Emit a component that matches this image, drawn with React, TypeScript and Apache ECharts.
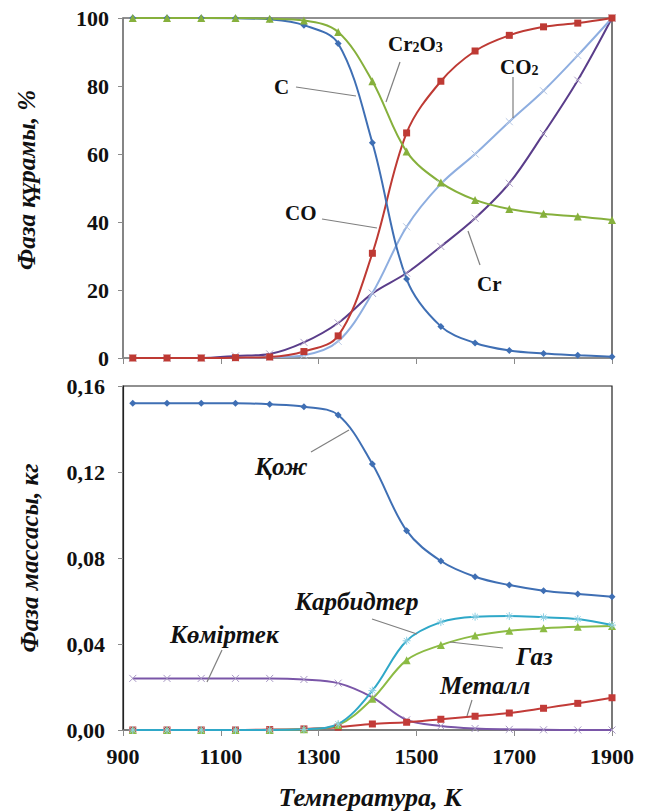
import React, { useEffect, useRef } from "react";
import * as echarts from "echarts";

const temps = [920, 990, 1060, 1130, 1200, 1270, 1340, 1410, 1480, 1550, 1620, 1690, 1760, 1830, 1900];

// Top panel: phase composition, %
const seriesC = [100, 100, 100, 99.9, 99.6, 97.9, 92.5, 63.3, 23.2, 9.3, 4.4, 2.2, 1.3, 0.8, 0.4];
const seriesCr2O3 = [100, 100, 100, 100, 99.8, 99.3, 95.9, 81.4, 60.7, 51.6, 46.5, 43.8, 42.4, 41.6, 40.6];
const seriesCO = [0, 0, 0, 0.1, 0.3, 1.9, 6.5, 30.8, 66.2, 81.4, 90.3, 94.9, 97.4, 98.5, 100];
const seriesCO2 = [0, 0, 0, 0, 0.2, 0.8, 4.9, 19.1, 38.6, 51.2, 60, 69.5, 78.6, 89, 100];
const seriesCr = [0, 0, 0, 0.6, 1.2, 4.6, 10.3, 19, 25, 32.8, 41.1, 51.4, 66, 81.7, 100];

// Bottom panel: phase mass, kg
const seriesQozh = [0.152, 0.152, 0.152, 0.152, 0.1515, 0.1504, 0.1465, 0.1237, 0.0927, 0.0786, 0.0713, 0.0674, 0.0648, 0.0633, 0.062];
const seriesKomirtek = [0.024, 0.024, 0.024, 0.024, 0.024, 0.0235, 0.0218, 0.0152, 0.0047, 0.0019, 0.0007, 0.0003, 0.0001, 0, 0];
const seriesKarbid = [0, 0, 0, 0, 0, 0.0003, 0.0028, 0.0183, 0.0415, 0.0502, 0.0527, 0.053, 0.0524, 0.0516, 0.0488];
const seriesGaz = [0, 0, 0, 0, 0, 0.0003, 0.0023, 0.0145, 0.0325, 0.0395, 0.0439, 0.0462, 0.0473, 0.048, 0.0484];
const seriesMetall = [0, 0, 0, 0, 0.0002, 0.0005, 0.0013, 0.0028, 0.0036, 0.005, 0.0064, 0.0079, 0.0101, 0.0124, 0.015];

const xTicks = { min: 900, max: 1900, interval: 200 };
const topY = { min: 0, max: 100, interval: 20 };
const botY = { min: 0, max: 0.16, interval: 0.04 };

const SERIF = "Liberation Serif";
const CROSS = "path://M0,0L10,10M10,0L0,10";
const STAR = "path://M0,5L10,5M5,0L5,10M1.5,1.5L8.5,8.5M8.5,1.5L1.5,8.5";

function mk(data: number[], idx: number, color: string, symbol: string, size: number, markerStroke?: string) {
  const pts = temps.map((t, i) => [t, data[i]]);
  const itemStyle = markerStroke
    ? { color: "rgba(0,0,0,0)", borderColor: markerStroke, borderWidth: 1 }
    : { color, borderWidth: 0 };
  return {
    type: "line",
    xAxisIndex: idx,
    yAxisIndex: idx,
    data: pts,
    smooth: 0.35,
    symbol,
    symbolSize: size,
    showSymbol: true,
    lineStyle: { color, width: 2 },
    itemStyle,
    emphasis: { disabled: true },
  };
}

export default function App() {
  const ref = useRef<HTMLDivElement>(null);
  useEffect(() => {
    if (!ref.current) return;
    const chart = echarts.init(ref.current, null, { renderer: "svg" });
    const tickLabel = { fontFamily: SERIF, fontWeight: "bold", fontSize: 22, color: "#111" };
    const lbl = (text: string, x: number, y: number, italic = false, size = 21) => ({
      type: "text",
      x,
      y,
      style: {
        text,
        fontFamily: SERIF,
        fontWeight: "bold",
        fontStyle: italic ? "italic" : "normal",
        fontSize: size,
        fill: "#111",
        align: "left",
        verticalAlign: "middle",
      },
      z: 100,
    });
    const ln = (x1: number, y1: number, x2: number, y2: number) => ({
      type: "line",
      shape: { x1, y1, x2, y2 },
      style: { stroke: "#7f7f7f", lineWidth: 1.2 },
      z: 99,
    });
    const richSub = {
      m: { fontFamily: SERIF, fontWeight: "bold", fontSize: 21, lineHeight: 21, fill: "#111", verticalAlign: "bottom" },
      s: { fontFamily: SERIF, fontWeight: "bold", fontSize: 14, lineHeight: 6, fill: "#111", verticalAlign: "bottom" },
    };
    const option: any = {
      animation: false,
      backgroundColor: "#fff",
      grid: [
        { left: 123, top: 18, width: 489, height: 340, show: true, borderColor: "#222", borderWidth: 1.2, backgroundColor: "transparent" },
        { left: 123, top: 386, width: 489, height: 344, show: true, borderColor: "#222", borderWidth: 1.2, backgroundColor: "transparent" },
      ],
      xAxis: [
        {
          type: "value", gridIndex: 0, ...xTicks,
          axisLine: { show: true, onZero: false, lineStyle: { color: "#8a8a8a", width: 1.5 } },
          axisTick: { show: true, length: 6, lineStyle: { color: "#8a8a8a" } },
          axisLabel: { show: false },
          splitLine: { show: false },
        },
        {
          type: "value", gridIndex: 1, ...xTicks,
          axisLine: { show: true, onZero: false, lineStyle: { color: "#777", width: 1.5 } },
          axisTick: { show: true, length: 6, lineStyle: { color: "#8a8a8a" } },
          axisLabel: { ...tickLabel, margin: 15, formatter: (v: number) => String(v) },
          splitLine: { show: false },
        },
      ],
      yAxis: [
        {
          type: "value", gridIndex: 0, ...topY,
          axisLine: { show: true, onZero: false, lineStyle: { color: "#8a8a8a", width: 1.5 } },
          axisTick: { show: true, length: 5, lineStyle: { color: "#8a8a8a" } },
          axisLabel: { ...tickLabel, margin: 14 },
          splitLine: { show: false },
        },
        {
          type: "value", gridIndex: 1, ...botY,
          axisLine: { show: true, onZero: false, lineStyle: { color: "#222", width: 1.2 } },
          axisTick: { show: true, length: 5, lineStyle: { color: "#8a8a8a" } },
          axisLabel: { ...tickLabel, margin: 18, formatter: (v: number) => v.toFixed(2).replace(".", ",") },
          splitLine: { show: false },
        },
      ],
      series: [
        mk(seriesCr, 0, "#5a3d8a", CROSS, 7, "#b0a4c8"),
        mk(seriesCO2, 0, "#8eaee0", CROSS, 7, "#b8c8e4"),
        mk(seriesCO, 0, "#be3a34", "rect", 7),
        mk(seriesC, 0, "#3f6fb4", "diamond", 7),
        mk(seriesCr2O3, 0, "#86b03c", "triangle", 8),
        mk(seriesKomirtek, 1, "#7a56a8", CROSS, 7, "#a898c4"),
        mk(seriesMetall, 1, "#c23b38", "rect", 7),
        mk(seriesGaz, 1, "#8cbb44", "triangle", 8),
        mk(seriesKarbid, 1, "#2fa8c8", STAR, 8, "#8fd0e4"),
        mk(seriesQozh, 1, "#3f6fb4", "diamond", 7),
      ],
      graphic: [
        // axis titles
        {
          type: "text", x: 26, y: 180, rotation: Math.PI / 2, z: 100,
          style: { text: "Фаза құрамы, %", fontFamily: SERIF, fontWeight: "bold", fontStyle: "italic", fontSize: 25, fill: "#111", align: "center", verticalAlign: "middle" },
        },
        {
          type: "text", x: 29, y: 558, rotation: Math.PI / 2, z: 100,
          style: { text: "Фаза массасы, кг", fontFamily: SERIF, fontWeight: "bold", fontStyle: "italic", fontSize: 25, fill: "#111", align: "center", verticalAlign: "middle" },
        },
        {
          type: "text", x: 370, y: 797, z: 100,
          style: { text: "Температура, К", fontFamily: SERIF, fontWeight: "bold", fontStyle: "italic", fontSize: 26, fill: "#111", align: "center", verticalAlign: "middle" },
        },
        // top annotations
        lbl("C", 274, 87),
        ln(296, 87, 356, 96),
        {
          type: "text", x: 388, y: 44, z: 100,
          style: { text: "{m|Cr}{s|2}{m|O}{s|3}", align: "left", verticalAlign: "middle", rich: richSub },
        },
        ln(400, 62, 386, 102),
        {
          type: "text", x: 500, y: 67, z: 100,
          style: { text: "{m|CO}{s|2}", align: "left", verticalAlign: "middle", rich: richSub },
        },
        ln(513, 77, 513, 118),
        lbl("CO", 285, 213),
        ln(322, 219, 377, 228),
        lbl("Cr", 477, 284),
        ln(480, 265, 468, 231),
        // bottom annotations
        lbl("Қож", 255, 466, true, 25),
        ln(311, 452, 349, 430),
        lbl("Көміртек", 170, 634, true, 25),
        ln(222, 650, 207, 682),
        lbl("Карбидтер", 295, 601, true, 25),
        ln(372, 619, 417, 634),
        lbl("Газ", 516, 656, true, 25),
        ln(503, 648, 450, 642),
        lbl("Металл", 440, 685, true, 25),
        ln(472, 700, 467, 716),
      ],
    };
    chart.setOption(option);
    return () => chart.dispose();
  }, []);
  return (
    <div
      ref={ref}
      style={{ position: "fixed", left: 0, top: 0, width: 647, height: 811, background: "#fff" }}
    />
  );
}
